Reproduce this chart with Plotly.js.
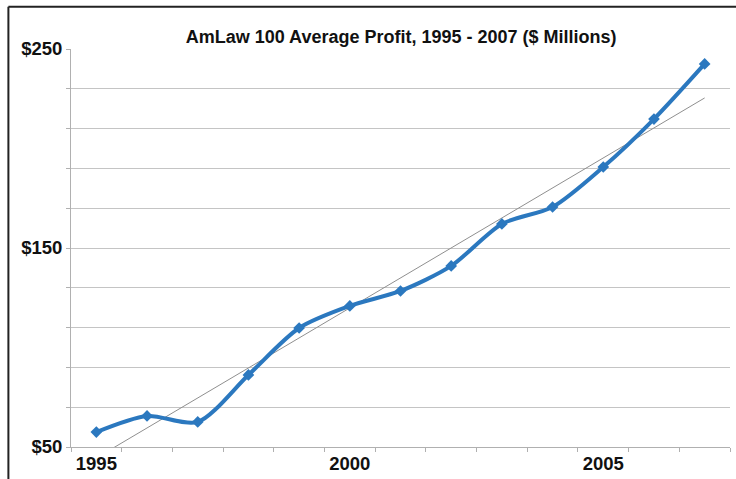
<!DOCTYPE html>
<html>
<head>
<meta charset="utf-8">
<script src="https://cdn.plot.ly/plotly-3.0.1.min.js"></script>
<style>html,body{margin:0;padding:0;background:#fff;}#chart{width:736px;height:479px;}</style>
</head>
<body>
<div id="chart"></div>
<script>
// Data
var years = [1995, 1996, 1997, 1998, 1999, 2000, 2001, 2002, 2003, 2004, 2005, 2006, 2007];
var avgProfit = [57.5, 65.6, 62.6, 86.2, 109.8, 120.9, 128.4, 141.0, 162.1, 170.6, 190.7, 214.8, 242.5];
var trendYears = [1995, 2007];
var trendValues = [44.5, 225.4];
var yTickVals = [50, 150, 250];
var yTickText = ['$50', '$150', '$250'];
var xTickVals = [1995, 2000, 2005];
var xTickText = ['1995', '2000', '2005'];

var FONT = 'Liberation Sans, Arial, Helvetica, sans-serif';
var blue = '#2b78bf';
var grid = '#c4c4c4';

var traces = [
  {
    x: trendYears, y: trendValues, type: 'scatter', mode: 'lines',
    line: {color: '#8f8f8f', width: 1}, hoverinfo: 'skip', showlegend: false
  },
  {
    x: years, y: avgProfit, type: 'scatter', mode: 'lines+markers',
    line: {color: blue, width: 4, shape: 'spline', smoothing: 0.8},
    marker: {color: blue, size: 9, symbol: 'diamond'},
    showlegend: false
  }
];

var layout = {
  width: 736, height: 479,
  margin: {l: 71, r: 6, t: 49, b: 32},
  paper_bgcolor: '#fff', plot_bgcolor: '#fff',
  font: {family: FONT, color: '#111'},
  title: {
    text: '<b>AmLaw 100 Average Profit, 1995 - 2007 ($ Millions)</b>',
    font: {family: FONT, size: 18, color: '#111'},
    x: 0.545, xref: 'container', xanchor: 'center',
    y: 0.923, yref: 'container', yanchor: 'middle'
  },
  xaxis: {
    range: [1994.5, 2007.5],
    tickvals: xTickVals, ticktext: xTickText,
    ticks: '', showgrid: false, zeroline: false,
    showline: true, linecolor: '#b0b0b0', linewidth: 1,
    tickfont: {family: FONT, size: 18.5, color: '#111', weight: 'bold'},
    minor: {tick0: 1994.5, dtick: 1, ticks: 'outside', ticklen: 4, tickcolor: '#b0b0b0', showgrid: false}
  },
  yaxis: {
    range: [50, 250],
    tickvals: yTickVals, ticktext: yTickText,
    ticks: 'outside', ticklen: 4, tickcolor: '#b0b0b0',
    showgrid: true, gridcolor: grid, gridwidth: 1, zeroline: false,
    showline: true, linecolor: '#b0b0b0', linewidth: 1,
    tickfont: {family: FONT, size: 18.5, color: '#111', weight: 'bold'},
    minor: {tick0: 50, dtick: 20, ticks: 'outside', ticklen: 4, tickcolor: '#b0b0b0', showgrid: true, gridcolor: grid, gridwidth: 1}
  },
  shapes: [
    {type: 'line', xref: 'paper', yref: 'paper', x0: -0.095, x1: 1.02, y0: 1.106, y1: 1.106, line: {color: '#222', width: 2}},
    {type: 'line', xref: 'paper', yref: 'paper', x0: -0.095, x1: -0.095, y0: 1.106, y1: -0.09, line: {color: '#222', width: 2}}
  ]
};

Plotly.newPlot('chart', traces, layout, {displayModeBar: false, staticPlot: true});
</script>
</body>
</html>
